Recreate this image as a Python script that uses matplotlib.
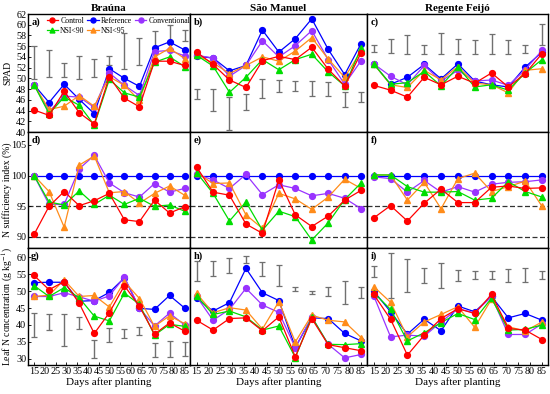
import matplotlib
matplotlib.use("Agg")
import matplotlib.pyplot as plt
import numpy as np

plt.rcParams['font.family'] = ['Liberation Serif', 'DejaVu Serif']
plt.rcParams['mathtext.fontset'] = 'stix'

days = [15, 22, 29, 36, 43, 50, 57, 64, 71, 78, 85]
sites = ["Braúna", "São Manuel", "Regente Feijó"]
series_names = ["Control", "Reference", "Conventional", "NSI<90", "NSI<95"]
series_colors = {"Control": "#ff0000", "Reference": "#0000ff", "Conventional": "#9933ff",
                 "NSI<90": "#00dd00", "NSI<95": "#ff8c1a"}
series_markers = {"Control": "o", "Reference": "o", "Conventional": "o", "NSI<90": "^", "NSI<95": "^"}

# ---------------- SPAD ----------------
spad_a = {
    "Control":      [44.1, 43.1, 47.6, 43.6, 41.5, 50.3, 46.3, 44.7, 53.2, 53.2, 52.4],
    "Reference":    [48.8, 45.5, 48.9, 46.1, 43.4, 51.8, 50.0, 48.5, 55.7, 56.8, 55.3],
    "Conventional": [48.8, 43.8, 46.7, 46.5, 44.6, 51.0, 48.7, 46.8, 55.0, 55.2, 54.2],
    "NSI<90":       [48.8, 43.4, 46.5, 45.0, 41.3, 49.8, 47.3, 46.5, 53.0, 54.0, 52.2],
    "NSI<95":       [48.8, 44.2, 44.8, 46.8, 44.8, 50.3, 48.7, 45.9, 54.0, 55.6, 53.7],
}
spad_b = {
    "Control":      [54.9, 52.6, 49.7, 48.3, 53.3, 54.1, 53.5, 55.8, 51.7, 48.6, 54.8],
    "Reference":    [54.1, 53.8, 51.4, 52.4, 59.0, 54.9, 57.4, 61.1, 55.4, 50.7, 56.5],
    "Conventional": [54.3, 53.8, 50.4, 52.4, 57.0, 54.0, 56.1, 58.9, 53.5, 48.9, 53.3],
    "NSI<90":       [54.3, 52.3, 47.4, 50.2, 53.5, 51.6, 53.5, 54.5, 51.2, 48.6, 55.7],
    "NSI<95":       [54.3, 52.9, 50.9, 52.4, 54.0, 53.2, 55.1, 57.6, 53.6, 50.2, 55.1],
}
spad_c = {
    "Control":      [48.7, 47.8, 46.5, 50.2, 48.8, 50.4, 49.1, 51.0, 48.4, 50.9, 54.6],
    "Reference":    [52.7, 48.9, 50.2, 52.6, 49.9, 52.7, 49.5, 48.8, 48.4, 52.1, 54.9],
    "Conventional": [52.7, 50.4, 48.8, 52.4, 49.5, 51.5, 49.5, 49.7, 48.7, 51.6, 55.2],
    "NSI<90":       [52.7, 48.9, 49.2, 51.3, 48.6, 52.1, 48.4, 48.8, 47.8, 51.0, 53.5],
    "NSI<95":       [52.7, 48.8, 48.3, 51.5, 49.7, 52.2, 49.1, 48.8, 47.3, 51.5, 51.8],
}
spad_bar_lo_a = [49.9, 50.3, 50.3, 49.9, 50.3, 52.4, 51.7, 52.4, 54.9, 56.9, 57.0]
spad_bar_hi_a = [56.1, 55.3, 52.8, 54.2, 53.6, 54.2, 58.4, 57.6, 58.9, 60.0, 59.0]
spad_bar_lo_b = [46.2, 43.9, 40.4, 44.1, 46.3, 47.4, 47.7, 46.7, 46.7, 44.6, 45.6]
spad_bar_hi_b = [48.0, 48.1, 46.5, 47.0, 49.9, 49.7, 49.5, 49.5, 49.4, 47.5, 47.5]
spad_bar_lo_c = [54.9, 54.8, 54.5, 54.6, 54.5, 54.6, 54.6, 54.5, 54.6, 54.8, 56.2]
spad_bar_hi_c = [56.2, 57.4, 58.0, 56.2, 58.4, 57.3, 57.2, 58.2, 57.2, 56.2, 60.1]

# ---------------- N sufficiency index ----------------
nsi_d = {
    "Control":      [90.4, 95.0, 97.4, 95.1, 95.9, 97.1, 92.8, 92.5, 96.0, 93.9, 94.9],
    "Reference":    [100] * 11,
    "Conventional": [100, 95.3, 95.3, 101.1, 103.3, 98.8, 97.2, 96.5, 98.7, 97.3, 97.9],
    "NSI<90":       [100, 95.7, 95.2, 97.5, 95.3, 96.8, 95.3, 96.3, 95.0, 95.2, 94.2],
    "NSI<95":       [100, 97.4, 91.6, 101.7, 103.2, 97.2, 97.4, 95.5, 97.1, 98.3, 96.8],
}
nsi_e = {
    "Control":      [101.4, 97.3, 96.8, 92.1, 90.6, 99.3, 93.6, 91.7, 93.4, 96.0, 97.6],
    "Reference":    [100] * 11,
    "Conventional": [100.2, 99.3, 97.9, 100.2, 96.9, 98.5, 97.9, 96.7, 97.1, 96.3, 94.6],
    "NSI<90":       [100.5, 97.1, 92.6, 95.7, 91.1, 94.2, 93.3, 89.5, 92.3, 96.1, 98.8],
    "NSI<95":       [100.5, 98.7, 98.8, 93.6, 91.4, 97.1, 96.2, 94.5, 96.5, 99.4, 97.9],
}
nsi_f = {
    "Control":      [93.1, 95.1, 92.6, 95.5, 97.8, 95.6, 95.6, 98.1, 98.3, 97.9, 98.0],
    "Reference":    [100] * 11,
    "Conventional": [99.8, 99.5, 97.3, 99.2, 97.3, 98.2, 97.3, 98.6, 98.9, 99.0, 99.3],
    "NSI<90":       [100.1, 100.1, 98.2, 97.3, 97.3, 97.4, 96.0, 96.3, 99.0, 97.4, 96.5],
    "NSI<95":       [100.1, 100.1, 96.0, 98.9, 94.6, 99.5, 100.4, 97.4, 98.2, 99.1, 95.0],
}
nsi_ref_lines = [95, 90]

# ---------------- Leaf N concentration ----------------
leafn_g = {
    "Control":      [54.6, 50.4, 52.8, 46.4, 37.5, 43.6, 51.6, 45.5, 37.3, 40.6, 38.2],
    "Reference":    [52.5, 52.6, 52.6, 47.0, 47.2, 49.6, 53.9, 44.9, 44.6, 48.7, 45.0],
    "Conventional": [48.4, 48.4, 49.5, 48.3, 47.0, 48.6, 54.1, 45.0, 39.7, 43.5, 40.0],
    "NSI<90":       [51.6, 48.4, 51.0, 48.0, 42.6, 41.2, 49.4, 46.1, 37.0, 40.2, 39.6],
    "NSI<95":       [48.4, 48.8, 53.3, 48.4, 48.7, 45.3, 52.8, 47.8, 39.6, 42.7, 40.4],
}
leafn_h = {
    "Control":      [41.4, 38.5, 41.9, 42.1, 38.3, 42.4, 30.6, 41.9, 34.2, 33.3, 32.4],
    "Reference":    [47.9, 44.1, 46.6, 56.7, 49.5, 47.2, 33.4, 42.1, 41.9, 37.5, 35.3],
    "Conventional": [48.4, 41.4, 44.6, 50.8, 45.9, 43.7, 33.3, 42.4, 34.3, 30.3, 31.3],
    "NSI<90":       [48.6, 43.1, 44.1, 42.4, 38.5, 39.7, 30.4, 42.4, 34.3, 34.2, 34.5],
    "NSI<95":       [49.3, 43.6, 45.1, 44.4, 38.8, 46.9, 35.0, 42.9, 41.4, 40.9, 36.3],
}
leafn_i = {
    "Control":      [49.0, 41.7, 31.1, 37.0, 41.9, 44.8, 43.4, 49.0, 39.0, 38.5, 35.7],
    "Reference":    [50.0, 43.9, 37.3, 41.7, 38.3, 45.6, 43.9, 48.4, 42.1, 43.4, 41.4],
    "Conventional": [48.6, 36.5, 37.0, 36.7, 40.9, 44.8, 43.6, 48.4, 37.2, 37.2, 40.3],
    "NSI<90":       [49.5, 44.6, 35.3, 37.7, 40.7, 43.4, 41.6, 47.9, 38.5, 38.7, 40.0],
    "NSI<95":       [51.3, 46.7, 36.5, 40.9, 43.1, 45.4, 39.3, 47.6, 39.5, 38.2, 40.9],
}
leafn_bar_lo_g = [36.4, 38.6, 33.8, 38.7, 30.3, 35.0, 36.1, 37.0, 30.6, 30.7, 30.9]
leafn_bar_hi_g = [43.6, 43.3, 43.1, 42.3, 35.7, 39.0, 38.9, 39.3, 34.6, 35.4, 35.1]
leafn_bar_lo_h = [53.1, 54.3, 55.3, 58.2, 54.5, 51.6, 50.1, 49.0, 48.5, 46.2, 47.9]
leafn_bar_hi_h = [59.0, 59.0, 59.7, 60.4, 58.7, 57.7, 51.1, 50.0, 51.3, 53.0, 51.3]
leafn_bar_lo_i = [54.1, 48.1, 49.6, 52.5, 51.0, 53.0, 53.5, 53.5, 52.6, 52.6, 53.5]
leafn_bar_hi_i = [57.4, 61.2, 59.5, 56.7, 58.2, 56.2, 55.8, 55.8, 56.5, 56.7, 55.8]

panel_letters = ["a)", "b)", "c)", "d)", "e)", "f)", "g)", "h)", "i)"]

# ---------------- figure ----------------
W, H = 550, 394
fig = plt.figure(figsize=(W / 100, H / 100), dpi=100)
col_px = [(28, 190), (190, 367), (367, 548)]
row_px = [(14, 132), (132, 248), (248, 365)]

data_rows = [
    [spad_a, spad_b, spad_c],
    [nsi_d, nsi_e, nsi_f],
    [leafn_g, leafn_h, leafn_i],
]
bars = [
    [(spad_bar_lo_a, spad_bar_hi_a), (spad_bar_lo_b, spad_bar_hi_b), (spad_bar_lo_c, spad_bar_hi_c)],
    [None, None, None],
    [(leafn_bar_lo_g, leafn_bar_hi_g), (leafn_bar_lo_h, leafn_bar_hi_h), (leafn_bar_lo_i, leafn_bar_hi_i)],
]
ylims = [(40, 62), (88.2, 107.1), (28.2, 62.7)]
yticks = [np.arange(40, 63, 2), [90, 95, 100, 105], [30, 35, 40, 45, 50, 55, 60]]
ylabels = ["SPAD", "N sufficiency index (%)", "Leaf N concentration (g kg$^{-1}$)"]
ylabel_x_px = [15.5, 15.5, 13.0]
draw_order = ["Reference", "Conventional", "NSI<95", "NSI<90", "Control"]

axes = {}
for r in range(3):
    for c in range(3):
        x0, x1 = col_px[c]
        y0, y1 = row_px[r]
        ax = fig.add_axes([x0 / W, 1 - y1 / H, (x1 - x0) / W, (y1 - y0) / H])
        axes[(r, c)] = ax
        ax.set_xlim(12.2, 87.5)
        ax.set_ylim(*ylims[r])
        ax.set_xticks(range(15, 86, 5))
        ax.set_yticks(yticks[r])
        ax.tick_params(labelsize=7.3, length=2, width=0.6, pad=1.2, direction='in')
        for s in ax.spines.values():
            s.set_linewidth(1.0)
        if c != 0:
            ax.tick_params(labelleft=False, left=False)
        else:
            ax.set_ylabel(ylabels[r], fontsize=7)
            ax.yaxis.set_label_coords(-ylabel_x_px[r] / (x1 - x0), 0.5)
        if r != 2:
            ax.tick_params(labelbottom=False, bottom=False)
        else:
            ax.set_xlabel("Days after planting", fontsize=8, labelpad=1)
        if r == 0:
            ax.set_title(sites[c], fontsize=8, fontweight='bold', pad=2)

        b = bars[r][c]
        if b is not None:
            lo, hi = np.array(b[0]), np.array(b[1])
            ax.errorbar(days, (lo + hi) / 2, yerr=(hi - lo) / 2, fmt='none',
                        ecolor='#707070', elinewidth=1.0, capsize=2.2, capthick=0.9, zorder=1)
        if r == 1:
            for v in nsi_ref_lines:
                ax.axhline(v, color='#333333', ls=(0, (4, 2)), lw=0.9, zorder=1)

        d = data_rows[r][c]
        for name in draw_order:
            ax.plot(days, d[name], color=series_colors[name], marker=series_markers[name],
                    markersize=4.2, lw=0.9, label=name, zorder=3)
        ax.text(0.02, 0.97, panel_letters[r * 3 + c], transform=ax.transAxes,
                fontsize=7.5, fontweight='bold', va='top', ha='left')

ax = axes[(0, 0)]
handles, labels = ax.get_legend_handles_labels()
hmap = dict(zip(labels, handles))
order = ["Control", "NSI<90", "Reference", "NSI<95", "Conventional"]
ax.legend([hmap[k] for k in order], order, ncol=3, loc='upper left',
          bbox_to_anchor=(0.1, 0.995), frameon=False, fontsize=5.6,
          handlelength=1.5, columnspacing=0.35, handletextpad=0.25, labelspacing=0.25,
          borderaxespad=0.2, borderpad=0.1, markerscale=0.85)

fig.savefig("out.png", dpi=100)
